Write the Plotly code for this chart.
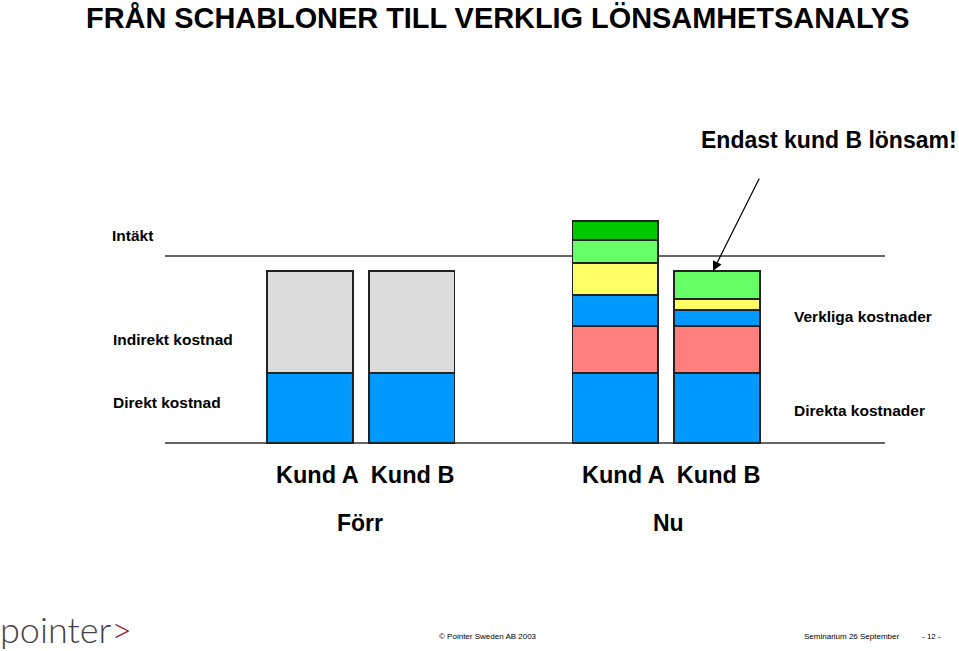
import plotly.graph_objects as go

# ---------------- data ----------------
perioder = ["Förr", "Nu"]
kunder = ["Kund A", "Kund B"]
# order of bars: Förr/Kund A, Förr/Kund B, Nu/Kund A, Nu/Kund B
direkt = [70, 70, 70, 70]
indirekt_schablon = [102, 102, None, None]
verklig_1 = [None, None, 47, 47]
verklig_2 = [None, None, 31, 16]
verklig_3 = [None, None, 32, 11]
verklig_4 = [None, None, 23, 28]
verklig_5 = [None, None, 19, None]
intakt = 187

layers = [
    (direkt, "#0099FF"),
    (indirekt_schablon, "#DCDCDC"),
    (verklig_1, "#FF7F7F"),
    (verklig_2, "#0099FF"),
    (verklig_3, "#FFFF66"),
    (verklig_4, "#66FF66"),
    (verklig_5, "#00C800"),
]

# ---------------- layout helpers ----------------
xs = [p * 3 + k for p in range(len(perioder)) for k in range(len(kunder))]
W, H = 959, 651
px_per_x = 101.75
x0_px = 310
y0_px = 443
xr = [-x0_px / px_per_x, (W - x0_px) / px_per_x]
yr = [-(H - y0_px), y0_px]


def xd(px):
    return (px - x0_px) / px_per_x


fig = go.Figure()
for vals, col in layers:
    fig.add_trace(go.Bar(
        x=xs, y=vals, width=0.845,
        marker=dict(color=col, line=dict(color="#222222", width=1.5)),
        showlegend=False, hoverinfo="skip",
    ))

FONT = "Liberation Sans, Arial, sans-serif"

shapes = [
    dict(type="line", xref="x", yref="y", x0=xd(165), x1=xd(885), y0=intakt, y1=intakt,
         line=dict(color="#333333", width=1.5), layer="below"),
    dict(type="line", xref="x", yref="y", x0=xd(165), x1=xd(885), y0=0, y1=0,
         line=dict(color="#333333", width=1.5), layer="below"),
]

ann = []


def txt(text, x, y, size, bold=True, xanchor="left", color="black", family=FONT):
    ann.append(dict(text=(f"<b>{text}</b>" if bold else text), x=x / W, y=1 - y / H,
                    xref="paper", yref="paper", xanchor=xanchor, yanchor="middle",
                    showarrow=False, font=dict(family=family, size=size, color=color)))


txt("FRÅN SCHABLONER TILL VERKLIG LÖNSAMHETSANALYS", 84, 18, 28.9)
txt("Endast kund B lönsam!", 699, 140, 23)
txt("Intäkt", 110, 235, 15.5)
txt("Indirekt kostnad", 111, 339, 15.5)
txt("Direkt kostnad", 111, 402, 15.5)
txt("Verkliga kostnader", 792, 316, 15.5)
txt("Direkta kostnader", 792, 410, 15.5)
txt("Kund A  Kund B", 365, 475, 23.5, xanchor="center")
txt("Kund A  Kund B", 671, 475, 23.5, xanchor="center")
txt(perioder[0], 360, 523, 23, xanchor="center")
txt(perioder[1], 668, 523, 23, xanchor="center")
txt("© Pointer Sweden AB 2003", 437, 636, 8, bold=False)
txt("Seminarium 26 September", 802, 636, 8, bold=False)
txt("- 12 -", 920, 636, 8, bold=False)
ann.append(dict(text="pointer<span style='color:#9B1B30'>&gt;</span>", x=-0.002, y=1 - 629 / H,
                xref="paper", yref="paper", xanchor="left", yanchor="middle", showarrow=False,
                font=dict(family="Lato, Open Sans, sans-serif", size=36, color="#444444", weight=300)))

# arrow pointing at top of Nu / Kund B
top_nu_b = sum(v for v in [direkt[3], verklig_1[3], verklig_2[3], verklig_3[3], verklig_4[3]] if v)
ann.append(dict(x=xd(713), y=top_nu_b, xref="x", yref="y", ax=47, ay=-94,
                showarrow=True, arrowhead=2, arrowsize=1.6, arrowwidth=1.2,
                arrowcolor="black", text=""))

fig.update_layout(
    width=W, height=H, margin=dict(l=0, r=0, t=0, b=0),
    paper_bgcolor="white", plot_bgcolor="white",
    barmode="stack",
    xaxis=dict(range=xr, visible=False, fixedrange=True),
    yaxis=dict(range=yr, visible=False, fixedrange=True),
    shapes=shapes, annotations=ann,
)
fig.write_html("out.html")
